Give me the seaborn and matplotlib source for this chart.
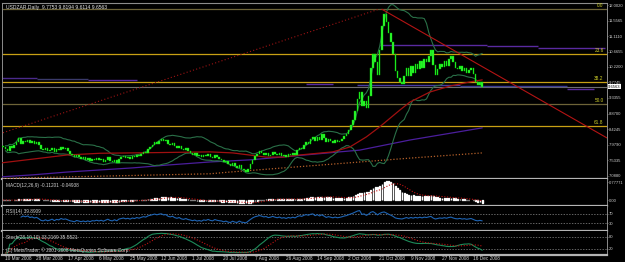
#!/usr/bin/env python3
# -*- coding: utf-8 -*-

import matplotlib
matplotlib.use("Agg")
import matplotlib.pyplot as plt
import matplotlib.transforms as mtransforms
import numpy as np
import pandas as pd
import seaborn as sns

sns.set_style("dark", {"axes.facecolor": "black", "figure.facecolor": "black"})
plt.rcParams['font.family'] = ['Liberation Sans', 'DejaVu Sans']

title = "USDZAR,Daily  9.7753 9.8194 9.6114 9.6563"

# daily closes, 10 Mar 2008 .. 23 Dec 2008 (one row per date label)
closes = [
    7.92, 7.85, 7.80, 7.95, 7.88, 7.98, 8.05, 8.18, 8.02, 8.10, 8.06, 8.12, 8.04, 8.08,
    8.02, 8.06, 7.98, 7.86, 7.82, 7.88, 7.80, 7.84, 7.90, 7.78, 7.86, 7.82, 7.92, 7.85,
    7.88, 7.80, 7.72, 7.68, 7.62, 7.70, 7.64, 7.58, 7.62, 7.55, 7.60, 7.52, 7.58, 7.56,
    7.60, 7.54, 7.58, 7.50, 7.56, 7.62, 7.52, 7.48, 7.55, 7.46, 7.58, 7.62, 7.66, 7.60,
    7.64, 7.58, 7.66, 7.62, 7.70, 7.65, 7.72, 7.78, 7.75, 7.86, 7.92, 7.98, 8.06, 8.02,
    8.10, 8.14, 8.08, 8.12, 8.02, 7.98, 8.04, 7.95, 7.90, 7.96, 7.86, 7.82, 7.88, 7.80,
    7.76, 7.70, 7.74, 7.65, 7.68, 7.62, 7.70, 7.66, 7.72, 7.64, 7.60, 7.68, 7.62, 7.58,
    7.56, 7.48, 7.52, 7.42, 7.38, 7.45, 7.36, 7.32, 7.40, 7.28, 7.25, 7.20, 7.30, 7.42,
    7.55, 7.66, 7.72, 7.80, 7.76, 7.70, 7.74, 7.66, 7.70, 7.78, 7.72, 7.68, 7.74, 7.66,
    7.70, 7.64, 7.72, 7.68, 7.75, 7.70, 7.82, 7.90, 7.86, 7.98, 8.06, 8.02, 8.14, 8.20,
    8.08, 8.22, 8.12, 8.28, 8.18, 8.05, 8.15, 8.10, 8.04, 8.12, 8.06, 8.10, 8.16, 8.24,
    8.30, 8.42, 8.55, 8.70, 8.95, 9.30, 9.50, 9.10, 9.25, 9.05, 9.40, 10.20, 10.60, 10.35,
    10.00, 10.70, 11.40, 11.75, 11.50, 11.20, 10.95, 10.60, 10.10, 9.90, 9.80, 9.72, 9.95, 10.20,
    9.95, 10.25, 10.05, 10.30, 10.15, 10.38, 10.20, 10.45, 10.35, 10.55, 10.70, 10.28, 10.00, 10.15,
    10.30, 10.22, 10.38, 10.25, 10.45, 10.55, 10.35, 10.20, 10.15, 10.25, 10.10, 10.18, 10.05, 10.12,
    10.20, 10.02, 9.80, 9.70, 9.7753, 9.6563,
]
first_open = 7.95
bid = 9.6563

date_labels = ["10 Mar 2008", "28 Mar 2008", "17 Apr 2008", "6 May 2008",
               "25 May 2008", "12 Jun 2008", "1 Jul 2008", "20 Jul 2008",
               "7 Aug 2008", "26 Aug 2008", "14 Sep 2008", "2 Oct 2008",
               "21 Oct 2008", "9 Nov 2008", "27 Nov 2008", "16 Dec 2008"]
bars_per_label = 14

price_ticks = [12.0020, 11.5565, 11.1110, 10.6655, 10.2200, 9.7745,
               9.3355, 8.8700, 8.4245, 7.9790, 7.5335, 7.0880]

fib_names = ["0.0", "23.6", "38.2", "50.0", "61.8"]
fib_levels = [11.887, 10.598, 9.801, 9.157, 8.513]
fib_colors = ["#6e6438", "#c8a014", "#c8a014", "#6e6438", "#c8a014"]

# moving averages (bar index, price)
red_ma_x = [-1.3, 28.7, 43.5, 70.4, 92.8, 103, 118, 125.6, 133, 148, 155.6,
            163, 169, 178, 182.5, 191.5, 200.4, 209.4, 215]
red_ma_y = [7.46, 7.69, 7.74, 7.76, 7.78, 7.75, 7.63, 7.63, 7.69, 7.78, 7.92,
            8.21, 8.50, 8.98, 9.21, 9.50, 9.67, 9.79, 9.85]
purple_ma_x = [-1.3, 13.5, 28.7, 43.5, 58.3, 73.5, 92.8, 110.8, 151, 160, 182.5, 215]
purple_ma_y = [7.06, 7.12, 7.20, 7.26, 7.32, 7.40, 7.49, 7.55, 7.78, 7.83, 8.12, 8.47]
orange_ma_x = [-1.3, 7.6, 28.7, 92.8, 101.8, 182.5, 215]
orange_ma_y = [7.00, 7.03, 7.06, 7.15, 7.20, 7.60, 7.75]

# trend lines (bar index, price)
up_trend_x = [-1.5, 169]
up_trend_y = [8.30, 11.89]
down_trend_x = [170, 271]
down_trend_y = [11.88, 8.18]

# purple level segments
seg_start = [-1, 15, 38, 136, 169, 217, 240, 159, 205, 253]
seg_end = [15, 38, 60, 148, 217, 240, 270, 205, 253, 265]
seg_level = [9.904, 9.875, 9.846, 9.731, 10.852, 10.81, 10.766, 9.70, 9.67, 9.59]
seg_color = ["#4b2a8c", "#3a3a6a", "#5a2aa0", "#5a2aa0", "#5a2aa0",
             "#5a2aa0", "#5a2aa0", "#4a3aa0", "#3a3a90", "#5a2aa0"]

macd_ticks = [0.77771, 0.0]
macd_tick_labels = ["0.77771", "0.00"]
rsi_levels = [70, 30]
stoch_levels = [80, 20]

macd_title = "MACD(12,26,9) -0.11201 -0.04938"
rsi_title = "RSI(14) 39.8909"
stoch_title = "Stoch(28,10,10) 33.2169 35.5521"
copyright_text = "(C) MetaTrader, \u00a9 2001-2008 MetaQuotes Software Corp."

# ---------------------------------------------------------------- indicators
close = pd.Series(closes)
idx = np.arange(len(close))
opens = pd.Series([first_open] + closes[:-1])

mid = close.rolling(20, min_periods=2).mean()
std = close.rolling(20, min_periods=2).std(ddof=0)
bb_up = mid + 2 * std
bb_lo = mid - 2 * std

ema12 = close.ewm(span=12, adjust=False).mean()
ema26 = close.ewm(span=26, adjust=False).mean()
macd = ema12 - ema26
signal = macd.rolling(9, min_periods=1).mean()

delta = close.diff()
gain = delta.clip(lower=0).ewm(alpha=1 / 14, min_periods=8).mean()
loss = (-delta.clip(upper=0)).ewm(alpha=1 / 14, min_periods=8).mean()
rsi = 100 - 100 / (1 + gain / loss)

ll = close.rolling(28, min_periods=1).min()
hh = close.rolling(28, min_periods=1).max()
num = (close - ll).rolling(10, min_periods=1).sum()
den = (hh - ll).rolling(10, min_periods=1).sum().replace(0, np.nan)
stoch_k = 100 * num / den
stoch_d = stoch_k.rolling(10, min_periods=1).mean()

# ---------------------------------------------------------------- figure
fig = plt.figure(figsize=(6.25, 2.62), dpi=100)
fig.patch.set_facecolor("black")
W, H = 625.0, 262.0
left, right = 2 / W, 607 / W
FS = 3.0


def make_ax(y_top, y_bot):
    ax = fig.add_axes([left, 1 - y_bot / H, right - left, (y_bot - y_top) / H])
    ax.set_facecolor("black")
    ax.grid(False)
    for s in ["left", "right"]:
        ax.spines[s].set_color("#8c8c8c")
        ax.spines[s].set_linewidth(0.7)
    ax.spines["top"].set_visible(False)
    ax.spines["bottom"].set_color("#b4b4b4")
    ax.spines["bottom"].set_linewidth(1.6)
    ax.set_xlim(-0.5, 271)
    ax.yaxis.tick_right()
    ax.tick_params(axis="y", colors="#8c8c8c", labelcolor="#d2d2d2",
                   labelsize=FS, length=1, width=0.5, pad=0.5)
    ax.tick_params(axis="x", length=0, labelbottom=False)
    return ax


ax = make_ax(3, 179)
ax.spines["top"].set_visible(True)
ax.spines["top"].set_color("#8c8c8c")
ax.spines["top"].set_linewidth(0.8)
ax_macd = make_ax(179, 206)
ax_rsi = make_ax(206, 231)
ax_sto = make_ax(231, 255)

# ---- main price panel
ax.set_ylim(7.00, 12.06)
for lvl, col in zip(fib_levels, fib_colors):
    ax.axhline(lvl, color=col, lw=0.9, zorder=1)
for name, lvl in zip(fib_names, fib_levels):
    ax.text(269.5, lvl + 0.03, name, color="#d2d22a", fontsize=3.4,
            ha="right", va="bottom", zorder=6)
ax.axhline(bid, color="#6e6e6e", lw=0.8, zorder=1)
ax.hlines(seg_level, seg_start, seg_end, colors=seg_color, lw=1.0, zorder=2)

sns.lineplot(x=purple_ma_x, y=purple_ma_y, ax=ax, color="#4b1e9c", lw=0.9, zorder=3)
sns.lineplot(x=orange_ma_x, y=orange_ma_y, ax=ax, color="#b4602a", lw=0.9,
             linestyle=(0, (1, 1.5)), zorder=3)
sns.lineplot(x=idx, y=bb_up, ax=ax, color="#2a7048", lw=0.8, zorder=3)
sns.lineplot(x=idx, y=bb_lo, ax=ax, color="#2a7048", lw=0.8, zorder=3)
sns.lineplot(x=red_ma_x, y=red_ma_y, ax=ax, color="#a01010", lw=0.9, zorder=3)
sns.lineplot(x=up_trend_x, y=up_trend_y, ax=ax, color="#a01414", lw=0.8,
             linestyle=(0, (1, 2)), zorder=3)
sns.lineplot(x=down_trend_x, y=down_trend_y, ax=ax, color="#b41414", lw=0.8, zorder=3)

body_lo = np.minimum(opens, close)
body_h = np.maximum(np.abs(close - opens), 0.015)
ax.bar(idx, body_h, bottom=body_lo, width=0.7, color="#32ff32",
       edgecolor="#00c800", linewidth=0.3, zorder=4)

ax.set_yticks(price_ticks)
ax.set_yticklabels([f"{v:.4f}" for v in price_ticks])
ax.text(1.002, bid, f"{bid:.4f}", transform=mtransforms.blended_transform_factory(
    ax.transAxes, ax.transData), ha="left", va="center", fontsize=FS, color="black",
    bbox=dict(boxstyle="square,pad=0.15", fc="white", ec="none"), clip_on=False)
ax.text(0.006, 0.988, title, transform=ax.transAxes, color="#e6e6e6",
        fontsize=3.6, ha="left", va="top")

# ---- MACD
ax_macd.set_ylim(-0.26, 0.91)
ax_macd.bar(idx, macd, width=0.35, color="#b4b4b4", zorder=2)
sns.lineplot(x=idx, y=signal, ax=ax_macd, color="#c01414", lw=0.8,
             linestyle=(0, (1, 1.5)), zorder=3)
ax_macd.set_yticks(macd_ticks)
ax_macd.set_yticklabels(macd_tick_labels)
ax_macd.text(0.006, 0.86, macd_title, transform=ax_macd.transAxes,
             color="#d2d2d2", fontsize=3.4, ha="left", va="top")

# ---- RSI
ax_rsi.set_ylim(-5.5, 105.5)
for lvl in rsi_levels:
    ax_rsi.axhline(lvl, color="#8c8c8c", lw=0.5, linestyle=(0, (2, 2)))
sns.lineplot(x=idx, y=rsi, ax=ax_rsi, color="#1e64b4", lw=0.8, zorder=3)
ax_rsi.set_yticks(rsi_levels)
ax_rsi.set_yticklabels([str(v) for v in rsi_levels])
ax_rsi.text(0.006, 0.86, rsi_title, transform=ax_rsi.transAxes,
            color="#d2d2d2", fontsize=3.4, ha="left", va="top")

# ---- Stochastic
ax_sto.set_ylim(-10, 110)
for lvl in stoch_levels:
    ax_sto.axhline(lvl, color="#8c8c8c", lw=0.5, linestyle=(0, (2, 2)))
sns.lineplot(x=idx, y=stoch_k, ax=ax_sto, color="#1e8c5a", lw=0.8, zorder=3)
sns.lineplot(x=idx, y=stoch_d, ax=ax_sto, color="#c01414", lw=0.8,
             linestyle=(0, (1, 1.5)), zorder=3)
ax_sto.set_yticks(stoch_levels)
ax_sto.set_yticklabels([str(v) for v in stoch_levels])
ax_sto.text(0.006, 0.84, stoch_title, transform=ax_sto.transAxes,
            color="#d2d2d2", fontsize=3.4, ha="left", va="top")
ax_sto.text(0.006, 0.22, copyright_text, transform=ax_sto.transAxes,
            color="#d2d2d2", fontsize=3.4, ha="left", va="center")

# date axis
ax_sto.set_xticks(np.arange(len(date_labels)) * bars_per_label)
ax_sto.set_xticklabels(date_labels)
ax_sto.tick_params(axis="x", labelbottom=True, length=5, width=0.5,
                   color="#8c8c8c", labelcolor="#d2d2d2", labelsize=3.4, pad=-4.2)
shift = mtransforms.ScaledTranslation(2 / 100, 0, fig.dpi_scale_trans)
for lab in ax_sto.get_xticklabels():
    lab.set_horizontalalignment("left")
    lab.set_transform(lab.get_transform() + shift)

for a in (ax, ax_macd, ax_rsi, ax_sto):
    a.set_xlabel("")
    a.set_ylabel("")
    leg = a.get_legend()
    if leg:
        leg.remove()

fig.savefig("out.png", dpi=100, facecolor="black")
